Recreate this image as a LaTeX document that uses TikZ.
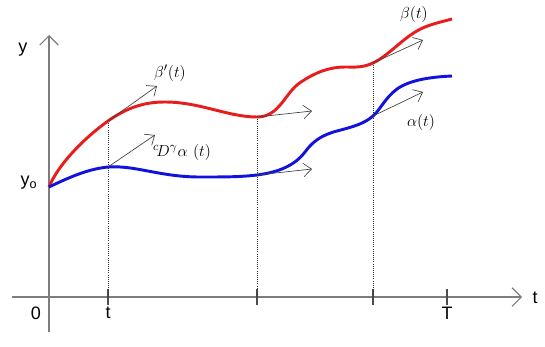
\documentclass[tikz,border=0pt]{standalone}
\usepackage{amsmath, amssymb}
\usepackage{fontspec}
\setsansfont{Liberation Sans}
\usepackage{tikz}
\usetikzlibrary{arrows.meta}
\definecolor{curvered}{RGB}{232,28,28}
\definecolor{curveblue}{RGB}{18,18,222}
\definecolor{axisgray}{RGB}{125,125,125}
\tikzset{
    axis/.style={axisgray, line width=1.1pt, -{Straight Barb[length=7pt, width=14pt, line width=0.8pt]}},
    tickmark/.style={black!70, line width=0.8pt},
    guide/.style={black!80, densely dotted, line width=0.6pt},
    tangent/.style={black!75, line width=0.5pt, -{Straight Barb[length=6pt, width=10pt, line width=0.5pt]}},
    axislabel/.style={font=\sffamily\fontsize{13.5}{16}\selectfont},
    curvelabel/.style={font=\fontsize{12.5}{15}\selectfont}
}

\begin{document}
\begin{tikzpicture}[x=0.75pt, y=-0.75pt]
    \useasboundingbox (0,0) rectangle (545,346);

    % axes
    \coordinate (xstart) at (12,297);
    \coordinate (xend) at (522,297);
    \coordinate (ystart) at (49,332);
    \coordinate (yend) at (49,35);
    \draw[axis] (xstart) -- (xend);
    \draw[axis] (ystart) -- (yend);

    \node[axislabel] (ylab) at (23,50) {y};
    \node[axislabel] (tlab) at (535,298) {t};
    \node[axislabel] (ynull) at (29,183) {y\textsubscript{o}};
    \node[axislabel] (zero) at (36,313) {0};

    % ticks and dotted guides
    \foreach \xpos/\name in {108/ta, 257/tb, 373/tc, 447/tT} {
        \coordinate (\name) at (\xpos,297);
        \draw[tickmark] (\xpos,289) -- (\xpos,305);
    }
    \node[axislabel] (tick1) at (108,313) {t};
    \node[axislabel] (tick4) at (447,313) {T};

    % points on the curves
    \coordinate (r1) at (108,121);
    \coordinate (r2) at (257,117);
    \coordinate (r3) at (373,63);
    \coordinate (b1) at (108,167);
    \coordinate (b2) at (257,175);
    \coordinate (b3) at (373,116);

    \draw[guide] (r1) -- (ta);
    \draw[guide] (r2) -- (tb);
    \draw[guide] (r3) -- (tc);

    % beta (red)
    \draw[curvered, line width=2.2pt] (49,187)
        .. controls (58,165) and (83,139) .. (r1)
        .. controls (128,107) and (145,102) .. (165,102)
        .. controls (200,102) and (228,117) .. (r2)
        .. controls (280,117) and (285,92) .. (301,82)
        .. controls (316,72) and (330,67) .. (345,67)
        .. controls (355,67) and (362,68) .. (r3)
        .. controls (390,55) and (405,35) .. (425,27)
        .. controls (435,23) and (445,21) .. (452,19);

    % alpha (blue)
    \draw[curveblue, line width=2.2pt] (49,187)
        .. controls (70,177) and (88,169) .. (b1)
        .. controls (135,165) and (160,177) .. (200,177)
        .. controls (225,177) and (240,177) .. (b2)
        .. controls (280,172) and (295,165) .. (305,152)
        .. controls (313,141) and (322,135) .. (337,131)
        .. controls (352,127) and (364,124) .. (b3)
        .. controls (380,110) and (385,98) .. (397,89)
        .. controls (410,80) and (430,77) .. (452,76);

    % tangent vectors
    \coordinate (r1tip) at (157,86);
    \coordinate (r2tip) at (312,111);
    \coordinate (r3tip) at (423,40);
    \coordinate (b1tip) at (155,135);
    \coordinate (b2tip) at (312,169);
    \coordinate (b3tip) at (423,92);
    \draw[tangent] (r1) -- (r1tip);
    \draw[tangent] (r2) -- (r2tip);
    \draw[tangent] (r3) -- (r3tip);
    \draw[tangent] (b1) -- (b1tip);
    \draw[tangent] (b2) -- (b2tip);
    \draw[tangent] (b3) -- (b3tip);

    \node[curvelabel] (dbeta) at (170,73) {$\beta'(t)$};
    \node[curvelabel] (dalpha) at (182,152) {${}^{c}\!D^{\gamma}\alpha\ (t)$};
    \node[curvelabel] (beta) at (414,15) {$\beta(t)$};
    \node[curvelabel] (alpha) at (421,122) {$\alpha(t)$};
\end{tikzpicture}
\end{document}
